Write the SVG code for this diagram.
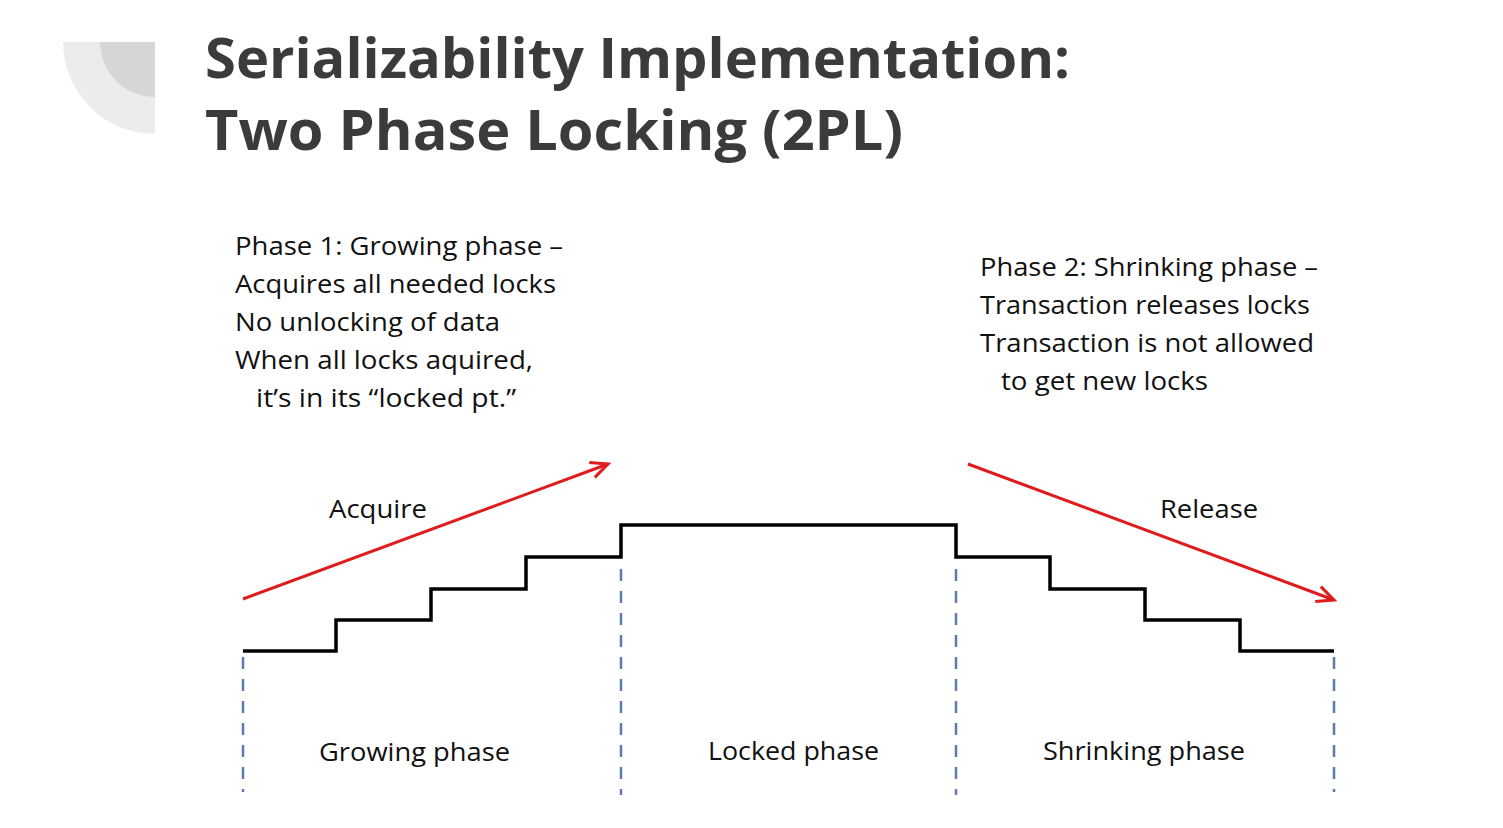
<svg xmlns="http://www.w3.org/2000/svg" width="1503" height="828" viewBox="0 0 1503 828">
<style>
.title{font-family:"Open Sans","DejaVu Sans",sans-serif;font-weight:bold;font-size:55px;fill:#3b3b3b}
.body{font-family:"Open Sans","Liberation Sans",sans-serif;font-size:25px;fill:#111}
.stair{fill:none;stroke:#000;stroke-width:3.5;stroke-linejoin:miter}
.dash{stroke:#5b7ea6;stroke-width:2.5;stroke-dasharray:12 10}
.arrow{stroke:#e01b1b;stroke-width:3;fill:none;marker-end:url(#ah)}
</style>
<defs>
<marker id="ah" viewBox="0 0 24 24" refX="21" refY="12" markerWidth="24" markerHeight="24" markerUnits="userSpaceOnUse" orient="auto">
<path d="M4,4 L21,12 L4,20" fill="none" stroke="#e01b1b" stroke-width="3"/>
</marker>
</defs>
<rect width="1503" height="828" fill="#fff"/>
<g id="deco">
<path d="M63,42 H155 V134 A92,92 0 0 1 63,42 Z" fill="#ececec"/>
<path d="M100,42 H155 V97 A55,55 0 0 1 100,42 Z" fill="#d6d6d6"/>
</g>
<g id="title">
<text class="title" x="205" y="78" textLength="865" lengthAdjust="spacingAndGlyphs">Serializability Implementation:</text>
<text class="title" x="205" y="150" textLength="698" lengthAdjust="spacingAndGlyphs">Two Phase Locking (2PL)</text>
</g>
<g id="phase1-text" class="body">
<text x="235" y="255" textLength="328" lengthAdjust="spacingAndGlyphs">Phase 1: Growing phase –</text>
<text x="235" y="293" textLength="321" lengthAdjust="spacingAndGlyphs">Acquires all needed locks</text>
<text x="235" y="331" textLength="265" lengthAdjust="spacingAndGlyphs">No unlocking of data</text>
<text x="235" y="369" textLength="298" lengthAdjust="spacingAndGlyphs">When all locks aquired,</text>
<text x="256" y="407" textLength="260" lengthAdjust="spacingAndGlyphs">it’s in its “locked pt.”</text>
</g>
<g id="phase2-text" class="body">
<text x="980" y="276" textLength="338" lengthAdjust="spacingAndGlyphs">Phase 2: Shrinking phase –</text>
<text x="980" y="314" textLength="330" lengthAdjust="spacingAndGlyphs">Transaction releases locks</text>
<text x="980" y="352" textLength="334" lengthAdjust="spacingAndGlyphs">Transaction is not allowed</text>
<text x="1001" y="390" textLength="207" lengthAdjust="spacingAndGlyphs">to get new locks</text>
</g>
<g id="connectors">
<path class="stair" d="M243,651 H336 V620 H431 V589 H526 V557 H621 V525 H956 V557 H1050 V589 H1145 V620 H1240 V651 H1334"/>
<line class="dash" x1="243" y1="657" x2="243" y2="792"/>
<line class="dash" x1="621" y1="569" x2="621" y2="795"/>
<line class="dash" x1="956" y1="569" x2="956" y2="795"/>
<line class="dash" x1="1334" y1="657" x2="1334" y2="792"/>
<line class="arrow" x1="243" y1="599" x2="608" y2="464"/>
<line class="arrow" x1="968" y1="464" x2="1334" y2="600"/>
</g>
<g id="labels" class="body">
<text x="329" y="518" textLength="98" lengthAdjust="spacingAndGlyphs">Acquire</text>
<text x="1160" y="518" textLength="98" lengthAdjust="spacingAndGlyphs">Release</text>
<text x="319" y="761" textLength="191" lengthAdjust="spacingAndGlyphs">Growing phase</text>
<text x="708" y="760" textLength="171" lengthAdjust="spacingAndGlyphs">Locked phase</text>
<text x="1043" y="760" textLength="202" lengthAdjust="spacingAndGlyphs">Shrinking phase</text>
</g>
</svg>
